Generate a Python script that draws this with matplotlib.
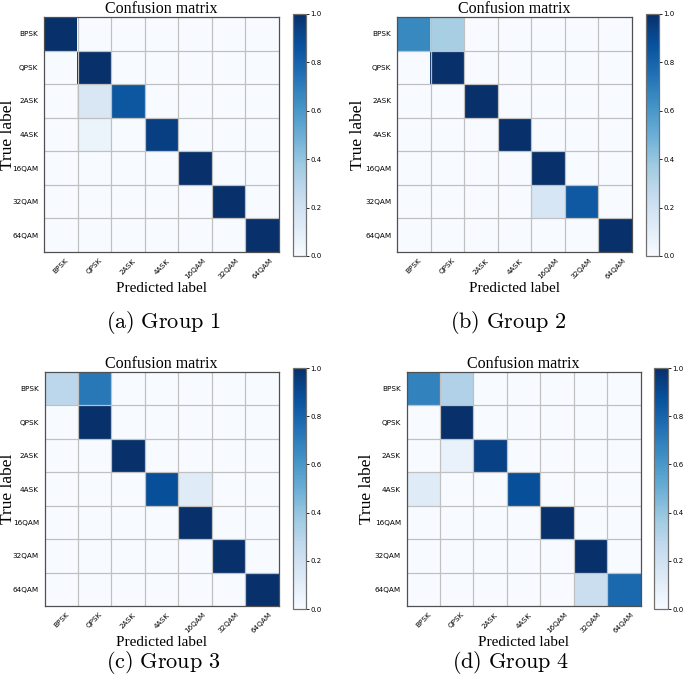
import numpy as np
import matplotlib
matplotlib.use('Agg')
import matplotlib.pyplot as plt

plt.rcParams['mathtext.fontset'] = 'cm'

classes = ['BPSK', 'QPSK', '2ASK', '4ASK', '16QAM', '32QAM', '64QAM']

group1 = [[1.00, 0.00, 0.00, 0.00, 0.00, 0.00, 0.00],
          [0.00, 1.00, 0.00, 0.00, 0.00, 0.00, 0.00],
          [0.00, 0.15, 0.85, 0.00, 0.00, 0.00, 0.00],
          [0.00, 0.06, 0.00, 0.94, 0.00, 0.00, 0.00],
          [0.00, 0.00, 0.00, 0.00, 1.00, 0.00, 0.00],
          [0.00, 0.00, 0.00, 0.00, 0.00, 1.00, 0.00],
          [0.00, 0.00, 0.00, 0.00, 0.00, 0.00, 1.00]]

group2 = [[0.66, 0.34, 0.00, 0.00, 0.00, 0.00, 0.00],
          [0.00, 1.00, 0.00, 0.00, 0.00, 0.00, 0.00],
          [0.00, 0.00, 1.00, 0.00, 0.00, 0.00, 0.00],
          [0.00, 0.00, 0.00, 1.00, 0.00, 0.00, 0.00],
          [0.00, 0.00, 0.00, 0.00, 1.00, 0.00, 0.00],
          [0.00, 0.00, 0.00, 0.00, 0.16, 0.84, 0.00],
          [0.00, 0.00, 0.00, 0.00, 0.00, 0.00, 1.00]]

group3 = [[0.28, 0.72, 0.00, 0.00, 0.00, 0.00, 0.00],
          [0.00, 1.00, 0.00, 0.00, 0.00, 0.00, 0.00],
          [0.00, 0.00, 1.00, 0.00, 0.00, 0.00, 0.00],
          [0.00, 0.00, 0.00, 0.88, 0.12, 0.00, 0.00],
          [0.00, 0.00, 0.00, 0.00, 1.00, 0.00, 0.00],
          [0.00, 0.00, 0.00, 0.00, 0.00, 1.00, 0.00],
          [0.00, 0.00, 0.00, 0.00, 0.00, 0.00, 1.00]]

group4 = [[0.68, 0.32, 0.00, 0.00, 0.00, 0.00, 0.00],
          [0.00, 1.00, 0.00, 0.00, 0.00, 0.00, 0.00],
          [0.00, 0.07, 0.93, 0.00, 0.00, 0.00, 0.00],
          [0.12, 0.00, 0.00, 0.88, 0.00, 0.00, 0.00],
          [0.00, 0.00, 0.00, 0.00, 1.00, 0.00, 0.00],
          [0.00, 0.00, 0.00, 0.00, 0.00, 1.00, 0.00],
          [0.00, 0.00, 0.00, 0.00, 0.00, 0.22, 0.78]]

captions = ['(a) Group 1', '(b) Group 2', '(c) Group 3', '(d) Group 4']

W, H = 685, 683


def px_box(x0, y0, x1, y1):
    # pixel box (top-left origin) -> figure fraction rect
    return [x0 / W, 1 - y1 / H, (x1 - x0) / W, (y1 - y0) / H]


def draw_cm(fig, cm, ax_box, cb_box, ylabel_x):
    ax = fig.add_axes(px_box(*ax_box))
    cax = fig.add_axes(px_box(*cb_box))
    im = ax.imshow(np.array(cm), interpolation='nearest', cmap=plt.cm.Blues, vmin=0, vmax=1)
    ax.set_title('Confusion matrix', family='Liberation Serif', fontsize=11.5, pad=2)
    ticks = np.arange(len(classes))
    ax.set_xticks(ticks)
    ax.set_xticklabels(classes, rotation=45, fontsize=5.2)
    ax.set_yticks(ticks)
    ax.set_yticklabels(classes, fontsize=5.2)
    ax.tick_params(length=0, pad=4)
    ax.set_xticks(ticks[:-1] + 0.5, minor=True)
    ax.set_yticks(ticks[:-1] + 0.5, minor=True)
    ax.tick_params(which='minor', length=0)
    ax.grid(which='minor', color='#c0c0c0', linewidth=0.9)
    ax.grid(which='major', visible=False)
    for s in ax.spines.values():
        s.set_color('#505050')
        s.set_linewidth(0.9)
    ax.set_xlabel('Predicted label', family='Liberation Serif', fontsize=11, labelpad=1)
    ymid = (ax_box[1] + ax_box[3]) / 2
    fig.text(ylabel_x / W, 1 - ymid / H, 'True label', family='Liberation Serif',
             fontsize=12.5, rotation=90, ha='center', va='center')
    cb = fig.colorbar(im, cax=cax, ticks=[0, 0.2, 0.4, 0.6, 0.8, 1.0])
    cb.ax.tick_params(labelsize=5, length=2, width=0.6, pad=1)
    cb.outline.set_edgecolor('#707070')
    cb.outline.set_linewidth(0.9)
    return ax


fig = plt.figure(figsize=(6.85, 6.83), dpi=100)

draw_cm(fig, group1, (44, 17, 279, 252), (293, 14, 306, 256), 8)
draw_cm(fig, group2, (397, 17, 632, 252), (646, 14, 659, 256), 358)
draw_cm(fig, group3, (44, 372, 279, 606), (293, 368, 306, 609), 8)
draw_cm(fig, group4, (406, 372, 641, 606), (654, 368, 668, 609), 367)

cap_pos = [(163, 322), (508, 322), (163, 662), (510, 662)]
for text, (cx, cy) in zip(captions, cap_pos):
    fig.text(cx / W, 1 - cy / H, r'$\mathrm{' + text.replace(' ', r'\ ') + '}$',
             ha='center', va='center', fontsize=16)

fig.savefig('out.png', dpi=100)
